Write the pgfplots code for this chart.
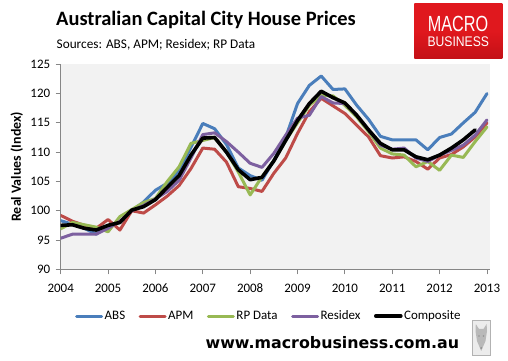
\documentclass[border=0pt]{standalone}
\usepackage{pgfplots}
\pgfplotsset{compat=1.18}
\usepackage{pgfplotstable}
\usepackage{fontspec}
\setmainfont{Carlito}
\newfontfamily\urlfont{DejaVu Sans}
\newfontfamily\logofont{Liberation Sans}
\definecolor{absc}{HTML}{4A7EBB}
\definecolor{apmc}{HTML}{BE4B48}
\definecolor{rpc}{HTML}{98B954}
\definecolor{resc}{HTML}{7D60A0}
\definecolor{axisgray}{HTML}{868686}
\definecolor{bggray}{HTML}{F2F2F2}
\definecolor{logored}{HTML}{E0181E}
\definecolor{logodark}{HTML}{C41016}

\pgfplotstableread{
x y
2004.00 98.3
2004.25 97.7
2004.50 97.0
2004.75 96.0
2005.00 97.5
2005.25 98.0
2005.50 100.0
2005.75 101.5
2006.00 103.5
2006.25 104.7
2006.50 106.8
2006.75 110.8
2007.00 114.9
2007.25 114.0
2007.50 111.3
2007.75 107.3
2008.00 106.0
2008.25 105.2
2008.50 108.6
2008.75 112.5
2009.00 118.3
2009.25 121.4
2009.50 123.0
2009.75 120.7
2010.00 120.8
2010.25 118.0
2010.50 115.6
2010.75 112.7
2011.00 112.1
2011.25 112.1
2011.50 112.1
2011.75 110.4
2012.00 112.5
2012.25 113.1
2012.50 115.0
2012.75 116.8
2013.00 120.0
}\abs

\pgfplotstableread{
x y
2004.00 99.2
2004.25 98.2
2004.50 97.5
2004.75 97.0
2005.00 98.5
2005.25 96.7
2005.50 100.0
2005.75 99.6
2006.00 101.0
2006.25 102.5
2006.50 104.3
2006.75 107.2
2007.00 110.7
2007.25 110.5
2007.50 108.3
2007.75 104.1
2008.00 103.8
2008.25 103.3
2008.50 106.4
2008.75 109.0
2009.00 113.2
2009.25 116.9
2009.50 119.2
2009.75 117.9
2010.00 116.6
2010.25 114.6
2010.50 112.6
2010.75 109.4
2011.00 109.0
2011.25 109.2
2011.50 108.4
2011.75 107.1
2012.00 109.0
2012.25 109.6
2012.50 110.9
2012.75 112.6
2013.00 115.0
}\apm

\pgfplotstableread{
x y
2004.00 96.9
2004.25 98.0
2004.50 97.6
2004.75 97.2
2005.00 96.4
2005.25 99.0
2005.50 100.2
2005.75 101.4
2006.00 102.1
2006.25 105.0
2006.50 107.5
2006.75 111.5
2007.00 112.0
2007.25 112.5
2007.50 110.0
2007.75 106.6
2008.00 102.7
2008.25 105.8
2008.50 108.5
2008.75 112.0
2009.00 115.0
2009.25 118.0
2009.50 119.7
2009.75 119.6
2010.00 118.0
2010.25 116.0
2010.50 113.5
2010.75 110.7
2011.00 109.7
2011.25 109.5
2011.50 107.5
2011.75 108.4
2012.00 106.9
2012.25 109.5
2012.50 109.1
2012.75 111.8
2013.00 114.3
}\rp

\pgfplotstableread{
x y
2004.00 95.3
2004.25 96.0
2004.50 96.0
2004.75 96.0
2005.00 97.0
2005.25 98.2
2005.50 100.0
2005.75 100.9
2006.00 102.0
2006.25 103.3
2006.50 105.2
2006.75 109.0
2007.00 113.0
2007.25 113.3
2007.50 111.8
2007.75 110.0
2008.00 108.1
2008.25 107.4
2008.50 109.8
2008.75 112.9
2009.00 115.8
2009.25 116.3
2009.50 119.5
2009.75 118.4
2010.00 118.3
2010.25 116.3
2010.50 113.8
2010.75 111.2
2011.00 110.5
2011.25 110.7
2011.50 109.0
2011.75 108.4
2012.00 109.5
2012.25 110.3
2012.50 111.2
2012.75 112.9
2013.00 115.5
}\residex

\pgfplotstableread{
x y
2004.00 97.5
2004.25 97.6
2004.50 97.0
2004.75 96.7
2005.00 97.5
2005.25 98.0
2005.50 100.1
2005.75 100.7
2006.00 101.9
2006.25 104.0
2006.50 106.0
2006.75 109.5
2007.00 112.4
2007.25 112.5
2007.50 110.0
2007.75 107.0
2008.00 105.3
2008.25 105.7
2008.50 108.5
2008.75 112.0
2009.00 115.4
2009.25 118.3
2009.50 120.4
2009.75 119.3
2010.00 118.4
2010.25 116.3
2010.50 113.8
2010.75 111.5
2011.00 110.4
2011.25 110.4
2011.50 109.2
2011.75 108.7
2012.00 109.5
2012.25 110.7
2012.50 112.1
2012.75 113.8
}\composite

\begin{document}
\begin{tikzpicture}
\useasboundingbox (0,0) rectangle (508bp,361bp);
% title and subtitle
\node[anchor=base west, inner sep=0pt, font=\bfseries\fontsize{20.5}{20.5}\selectfont] at (56bp,335bp) {Australian Capital City House Prices};
\node[anchor=base west, inner sep=0pt, font=\fontsize{13.3}{13.3}\selectfont] at (56.5bp,312.5bp) {Sources: ABS, APM; Residex; RP Data};
% logo
\shade[top color=logored, bottom color=logodark, middle color=logored] (414.3bp,302.7bp) rectangle (502.3bp,357.7bp);
\node[anchor=base, inner sep=0pt, text=white, font=\logofont\fontsize{22}{22}\selectfont, xscale=0.74] at (458bp,329.3bp) {MACRO};
\node[anchor=base, inner sep=0pt, text=white, font=\logofont\fontsize{14}{14}\selectfont, xscale=0.87] at (458.3bp,314.3bp) {BUSINESS};
% url
\node[anchor=base west, inner sep=0pt, font=\urlfont\bfseries\fontsize{15.9}{15.9}\selectfont] at (205.5bp,12.7bp) {www.macrobusiness.com.au};
% wolf box
\fill[gray!15, draw=gray!60, line width=0.8bp] (472.3bp,6bp) rectangle (490bp,40.3bp);
\fill[gray!55] (481.2bp,10bp) -- (477bp,20bp) -- (475.5bp,30bp) -- (475.8bp,37bp) -- (479bp,32bp) -- (483.5bp,32bp) -- (486.6bp,37bp) -- (487bp,30bp) -- (485.5bp,20bp) -- cycle;
\fill[gray!85] (479bp,25bp) circle (0.9bp) (483.5bp,25bp) circle (0.9bp) (481.2bp,13bp) circle (1.1bp);

\begin{axis}[
  at={(60.7bp,91.7bp)}, anchor=south west,
  scale only axis, width=429.6bp, height=205bp,
  xmin=2004, xmax=2013.07, ymin=90, ymax=125,
  xtick={2004,2005,...,2013}, ytick={90,95,...,125},
  minor tick num=0,
  axis x line*=bottom, axis y line*=left,
  axis line style={draw=axisgray, line width=0.8bp, -},
  tick align=outside, major tick length=5bp,
  tick style={draw=axisgray, line width=0.8bp},
  axis background/.style={fill=bggray},
  /pgf/number format/assume math mode=true,
  xticklabel style={/pgf/number format/1000 sep={}, font=\fontsize{13}{13}\selectfont, yshift=-6bp},
  yticklabel style={font=\fontsize{13}{13}\selectfont, xshift=-2bp},
  ylabel={Real Values (Index)},
  ylabel style={at={(rel axis cs:-0.1025,0.5)}, anchor=center, rotate=0, font=\bfseries\fontsize{14}{14}\selectfont},
  legend columns=5,
  legend style={at={(rel axis cs:0.484,-0.228)}, anchor=center, draw=none, fill=none,
    font=\fontsize{13}{13}\selectfont,
    nodes={inner xsep=1.5bp},
    /tikz/every even column/.append style={column sep=12bp}},
  legend image code/.code={\draw[#1] (0bp,0bp) -- (25bp,0bp);},
  every axis plot/.append style={line join=round, line cap=round},
]
\addplot[color=absc, line width=3bp] table[x=x,y=y] {\abs};
\addlegendentry{ABS}
\addplot[color=apmc, line width=3bp] table[x=x,y=y] {\apm};
\addlegendentry{APM}
\addplot[color=rpc, line width=3bp] table[x=x,y=y] {\rp};
\addlegendentry{RP Data}
\addplot[color=resc, line width=3bp] table[x=x,y=y] {\residex};
\addlegendentry{Residex}
\addplot[color=black, line width=3.6bp] table[x=x,y=y] {\composite};
\addlegendentry{Composite}
\end{axis}
\end{tikzpicture}
\end{document}
